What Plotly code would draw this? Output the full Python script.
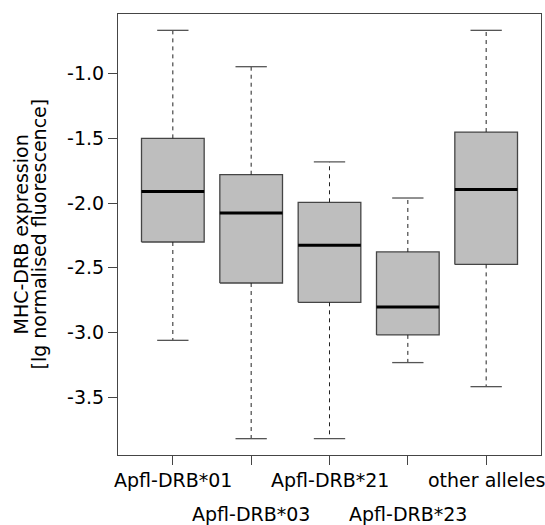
import plotly.graph_objects as go

categories = ["Apfl-DRB*01", "Apfl-DRB*03", "Apfl-DRB*21", "Apfl-DRB*23", "other alleles"]
upper_whisker = [-0.665, -0.946, -1.682, -1.961, -0.665]
q3 = [-1.500, -1.781, -1.994, -2.378, -1.451]
median = [-1.910, -2.077, -2.327, -2.803, -1.896]
q1 = [-2.301, -2.618, -2.767, -3.019, -2.474]
lower_whisker = [-3.061, -3.821, -3.821, -3.233, -3.419]
y_ticks = [-3.5, -3.0, -2.5, -2.0, -1.5, -1.0]

FONT = "DejaVu Sans"
FS = 19
BW = 0.4   # half box width
CW = 0.2   # half cap width
EDGE = "#454545"

pos = list(range(1, len(categories) + 1))

fig = go.Figure()

# boxes
bx, by = [], []
for p, a, b in zip(pos, q1, q3):
    bx += [p - BW, p + BW, p + BW, p - BW, p - BW, None]
    by += [a, a, b, b, a, None]
fig.add_trace(go.Scatter(x=bx, y=by, mode="lines", fill="toself",
                         fillcolor="#bebebe", line=dict(color=EDGE, width=1.3),
                         hoverinfo="skip", showlegend=False))

# whiskers (dashed)
wx, wy = [], []
for p, lo, a, b, hi in zip(pos, lower_whisker, q1, q3, upper_whisker):
    wx += [p, p, None, p, p, None]
    wy += [b, hi, None, a, lo, None]
fig.add_trace(go.Scatter(x=wx, y=wy, mode="lines",
                         line=dict(color="#222222", width=1, dash="4px,4px"),
                         hoverinfo="skip", showlegend=False))

# caps
cx, cy = [], []
for p, lo, hi in zip(pos, lower_whisker, upper_whisker):
    cx += [p - CW, p + CW, None, p - CW, p + CW, None]
    cy += [hi, hi, None, lo, lo, None]
fig.add_trace(go.Scatter(x=cx, y=cy, mode="lines",
                         line=dict(color="#555555", width=1.3),
                         hoverinfo="skip", showlegend=False))

# medians
mx, my = [], []
for p, m in zip(pos, median):
    mx += [p - BW, p + BW, None]
    my += [m, m, None]
fig.add_trace(go.Scatter(x=mx, y=my, mode="lines",
                         line=dict(color="black", width=3),
                         hoverinfo="skip", showlegend=False))

ymin = min(lower_whisker)
ymax = max(upper_whisker)
ext = (ymax - ymin) * 0.04
n = len(categories)

fig.update_layout(
    width=545, height=525,
    margin=dict(l=118, r=4, t=14, b=70),
    paper_bgcolor="white", plot_bgcolor="white",
    font=dict(family=FONT, size=FS, color="black"),
    showlegend=False,
    xaxis=dict(range=[0.5 - 0.04 * n, n + 0.5 + 0.04 * n], tickvals=pos,
               showticklabels=False, showgrid=False, zeroline=False,
               showline=True, mirror=True, linecolor=EDGE, linewidth=1,
               ticks="outside", ticklen=9, tickcolor=EDGE, tickwidth=1,
               automargin=False),
    yaxis=dict(range=[ymin - ext, ymax + ext], tickvals=y_ticks,
               ticktext=[f"{v:.1f}" for v in y_ticks],
               showgrid=False, zeroline=False,
               showline=True, mirror=True, linecolor=EDGE, linewidth=1,
               ticks="outside", ticklen=9, tickcolor=EDGE, tickwidth=1,
               tickfont=dict(family=FONT, size=FS), automargin=False),
)

# staggered category labels
for i, (p, c) in enumerate(zip(pos, categories)):
    fig.add_annotation(x=p, y=0, xref="x", yref="paper", text=c,
                       showarrow=False, xanchor="center", yanchor="middle",
                       yshift=-25 if i % 2 == 0 else -59,
                       font=dict(family=FONT, size=FS))

# y title (two lines)
for txt, xs in [("MHC-DRB expression", -98), ("[lg normalised fluorescence]", -80)]:
    fig.add_annotation(x=0, y=0.5, xref="paper", yref="paper", text=txt,
                       textangle=-90, showarrow=False, xanchor="center",
                       yanchor="middle", xshift=xs,
                       font=dict(family=FONT, size=FS))

fig.write_html(
    "out.html",
    config={"displayModeBar": False},
    post_script="document.body.style.margin='0';document.body.style.overflow='hidden';",
)
